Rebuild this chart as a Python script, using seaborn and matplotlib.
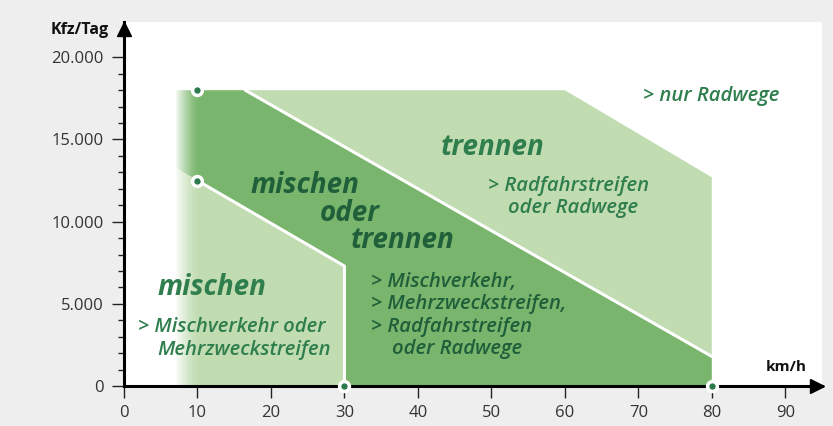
import numpy as np
import pandas as pd
import matplotlib
matplotlib.use("Agg")
import matplotlib.pyplot as plt
import seaborn as sns

# ---------------- data ----------------
speed_ticks = [0, 10, 20, 30, 40, 50, 60, 70, 80, 90]
volume_ticks = [0, 5000, 10000, 15000, 20000]
volume_labels = ["0", "5.000", "10.000", "15.000", "20.000"]

# boundary "mischen" / "mischen oder trennen"
mix_x = [10, 30, 30]
mix_y = [12500, 7300, 0]
# boundary "mischen oder trennen" / "trennen"
sep_x = [16.5, 80]
sep_y = [18000, 1800]
# upper edge of "trennen" area
sep_top_x = [16.5, 60, 80, 80]
sep_top_y = [18000, 18000, 12700, 1800]
# marked points
pts_x = [10, 10, 30, 80]
pts_y = [18000, 12500, 0, 0]
fade_start = 7

# ---------------- style ----------------
sns.set_theme(style="white")
plt.rcParams["font.family"] = ["Open Sans", "DejaVu Sans"]

DARK = "#79b56c"
LIGHT = "#c1dcb1"
TXT = "#2f7e4e"
TXT_D = "#1f5f3a"
TICK = "#333333"
BIG = 20
SMALL = 14.6

fig = plt.figure(figsize=(8.33, 4.26), dpi=100)
fig.patch.set_facecolor("#eeeeee")
ax = fig.add_axes([124 / 833, 1 - 386 / 426, (822 - 124) / 833, (386 - 22) / 426])
ax.set_facecolor("white")
XMAX, YMAX = 95, 22150
ax.set_xlim(0, XMAX)
ax.set_ylim(0, YMAX)

# slope of the mix line, used to extend it into the faded margin
slope = (mix_y[1] - mix_y[0]) / (mix_x[1] - mix_x[0])
y_left = mix_y[0] + slope * (fade_start - mix_x[0])

# regions
ax.fill(sep_top_x, sep_top_y, color=LIGHT, lw=0, zorder=1)
dark_x = [fade_start, sep_x[0], sep_x[1], 80, mix_x[2], mix_x[1], mix_x[0], fade_start]
dark_y = [18000, sep_y[0], sep_y[1], 0, mix_y[2], mix_y[1], mix_y[0], y_left]
ax.fill(dark_x, dark_y, color=DARK, lw=0, zorder=1)
light_x = [fade_start, mix_x[0], mix_x[1], mix_x[2], fade_start]
light_y = [y_left, mix_y[0], mix_y[1], mix_y[2], 0]
ax.fill(light_x, light_y, color=LIGHT, lw=0, zorder=1)

# white fade on the left margin
grad = np.zeros((2, 256, 4))
grad[..., :3] = 1.0
grad[..., 3] = np.linspace(1, 0, 256) ** 1.5
ax.imshow(grad, extent=[fade_start - 0.1, 10.3, 0, 18000], aspect="auto",
          zorder=2, interpolation="bilinear")
ax.set_xlim(0, XMAX)
ax.set_ylim(0, YMAX)

# white boundary lines
df_mix = pd.DataFrame({"x": mix_x, "y": mix_y})
df_sep = pd.DataFrame({"x": sep_x, "y": sep_y})
sns.lineplot(data=df_mix, x="x", y="y", sort=False, estimator=None, color="white",
             lw=2.2, ax=ax, zorder=3)
sns.lineplot(data=df_sep, x="x", y="y", sort=False, estimator=None, color="white",
             lw=2.2, ax=ax, zorder=3)

# axes styling
for s in ["top", "right"]:
    ax.spines[s].set_visible(False)
for s in ["left", "bottom"]:
    ax.spines[s].set_linewidth(2.2)
    ax.spines[s].set_color("black")
    ax.spines[s].set_zorder(4)

ax.set_xticks(speed_ticks)
ax.set_xticklabels([str(v) for v in speed_ticks])
ax.set_yticks(volume_ticks)
ax.set_yticklabels(volume_labels)
ax.set_yticks(np.arange(0, 20001, 1000), minor=True)
ax.tick_params(axis="y", which="major", direction="out", length=8.5, width=1.0,
               color="#222222", labelsize=12, labelcolor=TICK, pad=6, left=True)
ax.tick_params(axis="y", which="minor", direction="out", length=4.3, width=1.0,
               color="#222222", left=True)
ax.tick_params(axis="x", which="major", direction="out", length=8.5, width=1.0,
               color="#222222", labelsize=12, labelcolor=TICK, pad=5, bottom=True)
ax.set_xlabel("")
ax.set_ylabel("")

# arrow heads
ax.plot(0, 21740, marker="^", ms=9.5, color="black", clip_on=False, zorder=5)
ax.plot(94.28, 0, marker=">", ms=9.5, color="black", clip_on=False, zorder=5)

# points
sns.scatterplot(x=pts_x, y=pts_y, ax=ax, s=50, color="#2b7a4b", edgecolor="white",
                linewidth=2.5, zorder=6, clip_on=False, legend=False)

# axis titles
fig.text(109 / 833, 1 - 30 / 426, "Kfz/Tag", ha="right", va="center",
         fontsize=11.5, fontweight="bold", color="#111111")
ax.text(92.9, 1150, "km/h", ha="right", va="center", fontsize=11,
        fontweight="bold", color="#111111")

# labels in regions
it = dict(style="italic")
ax.text(50.1, 14540, "trennen", ha="center", va="center", fontsize=BIG,
        fontweight="bold", color=TXT, **it)
ax.text(49.6, 12170, "> Radfahrstreifen", ha="left", va="center", fontsize=SMALL,
        fontweight="semibold", color=TXT, **it)
ax.text(52.3, 10830, "oder Radwege", ha="left", va="center", fontsize=SMALL,
        fontweight="semibold", color=TXT, **it)
ax.text(70.7, 17640, "> nur Radwege", ha="left", va="center", fontsize=SMALL,
        fontweight="semibold", color=TXT, **it)

ax.text(17.2, 12230, "mischen", ha="left", va="center", fontsize=BIG,
        fontweight="bold", color=TXT_D, **it)
ax.text(26.7, 10520, "oder", ha="left", va="center", fontsize=BIG,
        fontweight="bold", color=TXT_D, **it)
ax.text(30.8, 8880, "trennen", ha="left", va="center", fontsize=BIG,
        fontweight="bold", color=TXT_D, **it)

ax.text(33.6, 6330, "> Mischverkehr,", ha="left", va="center", fontsize=SMALL,
        fontweight="semibold", color=TXT_D, **it)
ax.text(33.6, 4990, "> Mehrzweckstreifen,", ha="left", va="center", fontsize=SMALL,
        fontweight="semibold", color=TXT_D, **it)
ax.text(33.6, 3590, "> Radfahrstreifen", ha="left", va="center", fontsize=SMALL,
        fontweight="semibold", color=TXT_D, **it)
ax.text(36.5, 2250, "oder Radwege", ha="left", va="center", fontsize=SMALL,
        fontweight="semibold", color=TXT_D, **it)

ax.text(4.6, 6020, "mischen", ha="left", va="center", fontsize=BIG,
        fontweight="bold", color=TXT, **it)
ax.text(1.9, 3590, "> Mischverkehr oder", ha="left", va="center", fontsize=SMALL,
        fontweight="semibold", color=TXT, **it)
ax.text(4.5, 2190, "Mehrzweckstreifen", ha="left", va="center", fontsize=SMALL,
        fontweight="semibold", color=TXT, **it)

fig.savefig("out.png", dpi=100, facecolor=fig.get_facecolor())
